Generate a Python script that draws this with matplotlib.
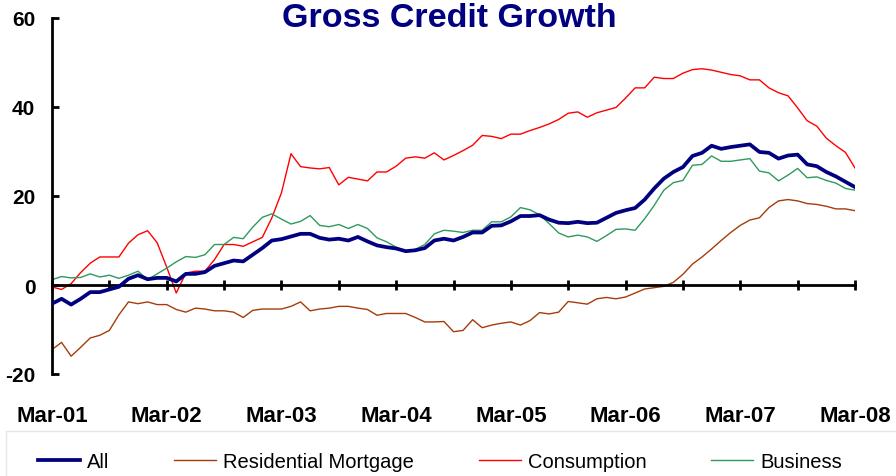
import matplotlib
matplotlib.use("Agg")
import matplotlib.pyplot as plt
from matplotlib.patches import Rectangle

plt.rcParams['font.family'] = ['Liberation Sans', 'DejaVu Sans']
plt.rcParams['axes.unicode_minus'] = False

# monthly growth rates (%), Mar-01 .. Mar-08
all_credit = [
    -4.2, -3.1, -4.4, -3.1, -1.6, -1.6, -1.0, -0.4, 1.4, 2.2, 1.3, 1.6,
    1.6, 0.8, 2.5, 2.5, 2.9, 4.3, 4.9, 5.5, 5.3, 6.8, 8.3, 10.0,
    10.3, 10.9, 11.5, 11.5, 10.6, 10.2, 10.4, 10.0, 10.8, 9.8, 8.9, 8.5,
    8.2, 7.6, 7.8, 8.3, 10.0, 10.4, 10.0, 10.8, 11.8, 11.8, 13.3, 13.4,
    14.3, 15.5, 15.5, 15.7, 14.7, 14.0, 13.9, 14.2, 13.9, 14.0, 15.1, 16.2,
    16.8, 17.3, 19.2, 21.7, 23.9, 25.4, 26.5, 29.0, 29.7, 31.3, 30.6, 31.0,
    31.3, 31.6, 29.9, 29.7, 28.4, 29.1, 29.3, 27.1, 26.7, 25.4, 24.4, 23.2,
    22.0,
]
mortgage = [
    -14.5, -12.9, -16.0, -14.0, -11.9, -11.3, -10.2, -6.7, -3.8, -4.2, -3.8, -4.4,
    -4.4, -5.5, -6.1, -5.2, -5.4, -5.8, -5.8, -6.1, -7.3, -5.7, -5.4, -5.4,
    -5.4, -4.8, -3.8, -5.8, -5.4, -5.2, -4.8, -4.8, -5.2, -5.5, -6.8, -6.4,
    -6.4, -6.4, -7.3, -8.3, -8.3, -8.2, -10.5, -10.2, -7.8, -9.6, -9.0, -8.6,
    -8.3, -9.0, -8.0, -6.2, -6.5, -6.1, -3.7, -4.0, -4.3, -3.1, -2.8, -3.1,
    -2.7, -1.8, -0.9, -0.6, -0.3, 0.6, 2.4, 4.7, 6.3, 8.1, 10.0, 11.8,
    13.4, 14.6, 15.1, 17.4, 18.9, 19.2, 18.9, 18.3, 18.1, 17.7, 17.1, 17.1,
    16.7,
]
consumption = [
    -0.45, -1.0, 0.3, 2.8, 4.9, 6.3, 6.3, 6.3, 9.4, 11.3, 12.2, 9.5,
    4.0, -1.8, 2.7, 3.1, 3.1, 5.7, 9.1, 9.1, 8.7, 9.7, 10.7, 15.1,
    20.7, 29.5, 26.6, 26.3, 26.1, 26.4, 22.5, 24.2, 23.8, 23.4, 25.4, 25.4,
    26.7, 28.5, 28.8, 28.5, 29.7, 28.1, 29.1, 30.2, 31.4, 33.6, 33.4, 32.9,
    33.9, 33.9, 34.7, 35.4, 36.2, 37.2, 38.6, 38.9, 37.7, 38.7, 39.3, 39.9,
    42.0, 44.3, 44.3, 46.7, 46.4, 46.4, 47.6, 48.4, 48.6, 48.3, 47.8, 47.3,
    47.0, 46.1, 46.1, 44.3, 43.2, 42.5, 39.8, 36.9, 35.7, 33.0, 31.3, 29.8,
    26.3,
]
business = [
    1.2, 1.9, 1.6, 1.7, 2.5, 1.8, 2.2, 1.5, 2.2, 3.1, 1.2, 2.5,
    3.8, 5.2, 6.4, 6.2, 6.8, 9.1, 9.1, 10.7, 10.4, 13.0, 15.2, 16.0,
    14.8, 13.7, 14.3, 15.6, 13.4, 13.1, 13.6, 12.7, 13.6, 12.7, 10.6, 9.7,
    8.5, 7.6, 8.0, 9.1, 11.5, 12.3, 12.1, 11.8, 12.3, 12.3, 14.2, 14.2,
    15.3, 17.4, 16.9, 15.8, 13.8, 11.7, 10.8, 11.2, 10.8, 9.8, 11.1, 12.5,
    12.6, 12.3, 14.9, 17.9, 21.3, 23.0, 23.5, 26.9, 27.1, 29.0, 27.8, 27.8,
    28.1, 28.4, 25.6, 25.2, 23.4, 24.7, 26.2, 24.1, 24.3, 23.5, 22.9, 21.7,
    21.3,
]
year_labels = ["Mar-01", "Mar-02", "Mar-03", "Mar-04",
               "Mar-05", "Mar-06", "Mar-07", "Mar-08"]

months = list(range(len(all_credit)))

fig = plt.figure(figsize=(8.96, 4.77), dpi=100)
ax = fig.add_axes([52 / 896, 1 - 375 / 477, 803 / 896, 356 / 477])

ax.plot(months, all_credit, color="#000080", lw=2.7, label="All", zorder=5)
ax.plot(months, mortgage, color="#A63C0A", lw=1.0, label="Residential Mortgage")
ax.plot(months, consumption, color="#FF0000", lw=1.0, label="Consumption")
ax.plot(months, business, color="#2E9A5E", lw=1.0, label="Business")

ax.set_xlim(0, 84)
ax.set_ylim(-20, 60)
ax.set_yticks([-20, 0, 20, 40, 60])
ax.tick_params(axis="y", direction="in", length=5, width=2, pad=12,
               labelsize=15)
for t in ax.get_yticklabels():
    t.set_fontweight("bold")

for s in ("top", "right"):
    ax.spines[s].set_visible(False)
ax.spines["left"].set_linewidth(2)
ax.spines["bottom"].set_position(("data", 0))
ax.spines["bottom"].set_linewidth(2)
ax.set_xticks(range(0, 85, 6))
ax.tick_params(axis="x", direction="inout", length=7, width=2,
               labelbottom=False)

# year labels along the bottom edge
sec = ax.secondary_xaxis("bottom")
sec.spines["bottom"].set_visible(False)
sec.set_xticks(range(0, 85, 12))
sec.set_xticklabels(year_labels, fontsize=16, fontweight="bold")
sec.tick_params(length=0, pad=22)

fig.text(0.502, 0.962, "Gross Credit Growth", ha="center", va="center",
         fontsize=24.5, fontweight="bold", color="#000080")

fig.patches.append(Rectangle((6 / 896, -0.05), 1.0, 0.05 + 45 / 477,
                             transform=fig.transFigure, fill=False,
                             edgecolor="#e6e6e6", lw=1))
fig.legend(loc="center", bbox_to_anchor=(0.491, 1 - 463 / 477), ncol=4,
           frameon=False, fontsize=14.5, handlelength=2.1,
           handletextpad=0.35, columnspacing=3.2)

fig.savefig("out.png", dpi=100)
